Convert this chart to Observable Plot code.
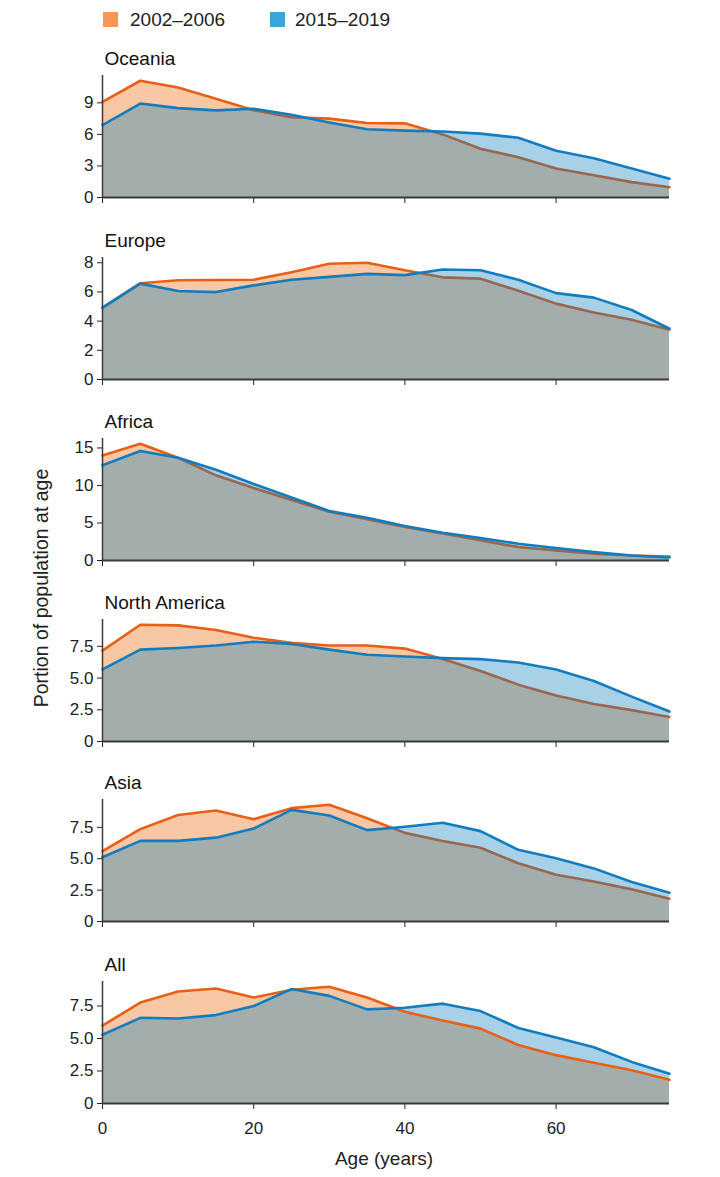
<!DOCTYPE html>
<html><head><meta charset="utf-8">
<script src="https://cdn.jsdelivr.net/npm/d3@7"></script>
<script src="https://cdn.jsdelivr.net/npm/@observablehq/plot@0.6"></script>
<style>
body{margin:0;background:#fff;font-family:"Liberation Sans",Arial,Helvetica,sans-serif;color:#222;}
#root{position:relative;width:720px;height:1177px;overflow:hidden;}
.abs{position:absolute;}
.sw{position:absolute;width:15px;height:15px;}
.lg{position:absolute;font-size:19px;line-height:19px;white-space:nowrap;}
</style></head><body><div id="root"></div>
<script>
// ---- data ----
const ages = [0,5,10,15,20,25,30,35,40,45,50,55,60,65,70,75];
const periods = ["2002–2006","2015–2019"];
const regions = ["Oceania","Europe","Africa","North America","Asia","All"];

const oceania2002 = [9.1,11.1,10.45,9.4,8.3,7.63,7.5,7.08,7.05,6.0,4.64,3.83,2.76,2.11,1.46,0.97];
const oceania2015 = [6.88,8.93,8.5,8.28,8.44,7.86,7.14,6.49,6.36,6.27,6.07,5.68,4.45,3.73,2.76,1.79];

const europe2002 = [4.92,6.6,6.8,6.82,6.84,7.35,7.93,8.0,7.49,7.0,6.91,6.08,5.2,4.59,4.1,3.41];
const europe2015 = [4.92,6.57,6.06,5.99,6.45,6.84,7.03,7.24,7.15,7.54,7.49,6.84,5.92,5.61,4.76,3.48];

const africa2002 = [14.0,15.56,13.7,11.35,9.65,8.07,6.5,5.5,4.48,3.59,2.69,1.79,1.35,0.9,0.67,0.54];
const africa2015 = [12.7,14.6,13.7,12.1,10.2,8.4,6.6,5.7,4.6,3.7,3.0,2.24,1.66,1.12,0.67,0.4];

const northAmerica2002 = [7.16,9.2,9.15,8.78,8.18,7.77,7.56,7.56,7.32,6.51,5.55,4.48,3.62,2.95,2.47,1.93];
const northAmerica2015 = [5.68,7.24,7.37,7.56,7.86,7.69,7.24,6.84,6.7,6.57,6.49,6.22,5.68,4.77,3.54,2.36];

const asia2002 = [5.6,7.36,8.49,8.84,8.14,9.03,9.3,8.22,7.06,6.42,5.88,4.64,3.72,3.18,2.56,1.81];
const asia2015 = [5.12,6.42,6.42,6.68,7.41,8.89,8.44,7.28,7.55,7.87,7.2,5.71,5.04,4.23,3.15,2.29];

const all2002 = [5.99,7.76,8.62,8.85,8.15,8.75,8.98,8.15,7.06,6.38,5.76,4.5,3.72,3.13,2.55,1.82];
const all2015 = [5.29,6.59,6.54,6.8,7.5,8.8,8.28,7.24,7.37,7.68,7.11,5.81,5.08,4.32,3.2,2.29];

const yTicksOceania = [0,3,6,9];
const yTicksEurope = [0,2,4,6,8];
const yTicksAfrica = [0,5,10,15];
const yTicksNorthAmerica = [0,2.5,5,7.5];
const yTicksAsia = [0,2.5,5,7.5];
const yTicksAll = [0,2.5,5,7.5];
const xTicks = [0,20,40,60];

const series2002 = [oceania2002,europe2002,africa2002,northAmerica2002,asia2002,all2002];
const series2015 = [oceania2015,europe2015,africa2015,northAmerica2015,asia2015,all2015];
const yTicks = [yTicksOceania,yTicksEurope,yTicksAfrica,yTicksNorthAmerica,yTicksAsia,yTicksAll];

// ---- style ----
const orangeLine = "#e85f18", orangeFill = "#ed6e10";
const blueLine = "#127cc0", blueFill = "#0079bc";
const zeroY = [197,379,560,741,921,1103];
const plotH = 122, mTop = 34;

const root = document.getElementById("root");

// legend
const leg = [
  {c:"#f5975a", x:103, tx:130, t:periods[0]},
  {c:"#3aa6d6", x:270, tx:295, t:periods[1]}
];
for (const l of leg) {
  const s = document.createElement("div"); s.className="sw";
  s.style.left=l.x+"px"; s.style.top="12px"; s.style.background=l.c; root.appendChild(s);
  const t = document.createElement("div"); t.className="lg";
  t.style.left=l.tx+"px"; t.style.top="10px"; t.textContent=l.t; root.appendChild(t);
}

regions.forEach((name,i)=>{
  const last = i === regions.length-1;
  const a = ages.map((age,k)=>({age, v:series2002[i][k]}));
  const b = ages.map((age,k)=>({age, v:series2015[i][k]}));
  const ymax = d3.max([...series2002[i],...series2015[i]])*1.045;
  const decimal = yTicks[i].some(t=>t%1!==0);
  const mBottom = last ? 40 : 10;
  const marks = [
    Plot.areaY(a,{x:"age",y:"v",fill:orangeFill,fillOpacity:0.38}),
  ];
  if (last) {
    marks.push(Plot.areaY(b,{x:"age",y:"v",fill:blueFill,fillOpacity:0.34}));
    marks.push(Plot.line(a,{x:"age",y:"v",stroke:orangeLine,strokeWidth:2.6}));
  } else {
    marks.push(Plot.line(a,{x:"age",y:"v",stroke:orangeLine,strokeWidth:2.6}));
    marks.push(Plot.areaY(b,{x:"age",y:"v",fill:blueFill,fillOpacity:0.34}));
  }
  marks.push(Plot.line(b,{x:"age",y:"v",stroke:blueLine,strokeWidth:2.6}));
  marks.push(Plot.ruleY([0],{stroke:"#3a3a3a",strokeWidth:2}));
  marks.push(Plot.ruleX([0],{stroke:"#3a3a3a",strokeWidth:1.5}));
  marks.push(Plot.text([name],{frameAnchor:"top-left",textAnchor:"start",lineAnchor:"bottom",dx:2,dy:-11,fontSize:19,fill:"#111"}));
  const p = Plot.plot({
    width:720, height: mTop+plotH+mBottom,
    marginLeft:102, marginRight:51, marginTop:mTop, marginBottom:mBottom,
    style:{fontSize:"17px",fontFamily:"Liberation Sans, Arial, sans-serif",color:"#222",background:"transparent"},
    x:{domain:[0,75], ticks:xTicks, tickSize:6, tickPadding:12, label:null,
       tickFormat: last ? (d=>String(d)) : (()=>"")},
    y:{domain:[0,ymax], ticks:yTicks[i], tickSize:5, tickPadding:4, label:null,
       tickFormat: decimal ? (d=> d===0 ? "0" : d.toFixed(1)) : (d=>String(d))},
    marks
  });
  p.style.position="absolute";
  p.style.left="0px";
  p.style.top=(zeroY[i]-plotH-mTop)+"px";
  root.appendChild(p);
});

// axis titles
const yl = document.createElement("div");
yl.textContent="Portion of population at age";
yl.style.cssText="position:absolute;font-size:19.5px;line-height:20px;white-space:nowrap;left:41px;top:588px;transform:translate(-50%,-50%) rotate(-90deg);";
root.appendChild(yl);
const xl = document.createElement("div");
xl.textContent="Age (years)";
xl.style.cssText="position:absolute;font-size:19px;line-height:19px;white-space:nowrap;left:384px;top:1158px;transform:translate(-50%,-50%);";
root.appendChild(xl);
</script></body></html>
